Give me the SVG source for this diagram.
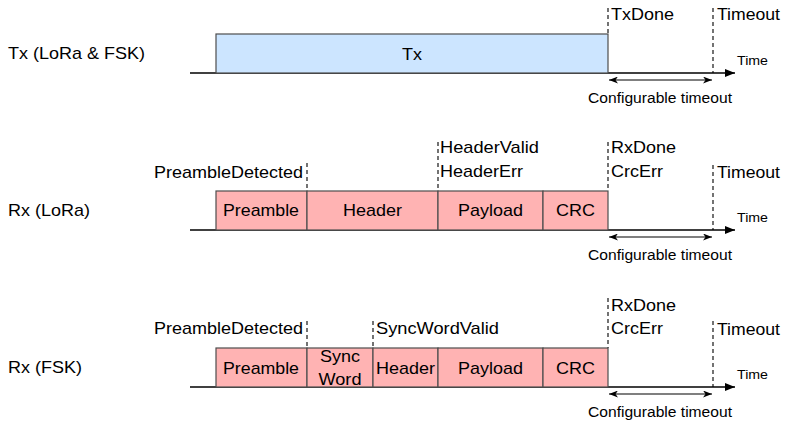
<svg xmlns="http://www.w3.org/2000/svg" width="786" height="424" viewBox="0 0 786 424">
<style>
text{font-family:"Liberation Sans",Arial,Helvetica,sans-serif;font-size:17px;fill:#000}
.m{text-anchor:middle}
.e{text-anchor:end}
.sm{font-size:15.5px}
.tm{font-size:13.5px}
.tx{fill:#cce5ff;stroke:#4d4d4d;stroke-width:1.2}
.rx{fill:#ffb3b3;stroke:#4d4d4d;stroke-width:1.2}
.dash{stroke:#000;stroke-width:1.1;stroke-dasharray:4 3;fill:none}
.axis{stroke:#000;stroke-width:1.4;fill:none}
.dbl{stroke:#000;stroke-width:1.1;fill:none}
</style>
<defs>
<marker id="ah" viewBox="0 0 10 8" refX="10" refY="4" markerWidth="10" markerHeight="8" markerUnits="userSpaceOnUse" orient="auto"><path d="M0,0 L10,4 L0,8 z" fill="#000"/></marker>
<marker id="ca" viewBox="0 0 9 7" refX="9" refY="3.5" markerWidth="9" markerHeight="7" markerUnits="userSpaceOnUse" orient="auto-start-reverse"><path d="M0,0 L9,3.5 L0,7 L2.5,3.5 z" fill="#000"/></marker>
</defs>

<g id="connectors">
<line class="axis" x1="190" y1="73" x2="735" y2="73" marker-end="url(#ah)"/>
<line class="axis" x1="190" y1="230" x2="735" y2="230" marker-end="url(#ah)"/>
<line class="axis" x1="190" y1="387" x2="735" y2="387" marker-end="url(#ah)"/>
<line class="dbl" x1="609" y1="80" x2="712" y2="80" marker-start="url(#ca)" marker-end="url(#ca)"/>
<line class="dbl" x1="609" y1="237" x2="712" y2="237" marker-start="url(#ca)" marker-end="url(#ca)"/>
<line class="dbl" x1="609" y1="394" x2="712" y2="394" marker-start="url(#ca)" marker-end="url(#ca)"/>
<line class="dash" x1="608" y1="8" x2="608" y2="34"/>
<line class="dash" x1="713" y1="8" x2="713" y2="73"/>
<line class="dash" x1="307" y1="163" x2="307" y2="191"/>
<line class="dash" x1="438" y1="142" x2="438" y2="191"/>
<line class="dash" x1="608" y1="142" x2="608" y2="191"/>
<line class="dash" x1="713" y1="165" x2="713" y2="230"/>
<line class="dash" x1="307" y1="321" x2="307" y2="348"/>
<line class="dash" x1="373" y1="321" x2="373" y2="348"/>
<line class="dash" x1="608" y1="298" x2="608" y2="348"/>
<line class="dash" x1="713" y1="321" x2="713" y2="387"/>
</g>

<g id="row-tx">
<text x="8" y="59" textLength="137" lengthAdjust="spacingAndGlyphs">Tx (LoRa &amp; FSK)</text>
<g id="tx-box"><rect class="tx" x="216" y="34" width="392" height="39"/><text class="m" x="412" y="60" textLength="20" lengthAdjust="spacingAndGlyphs">Tx</text></g>
<text x="611" y="20" textLength="63" lengthAdjust="spacingAndGlyphs">TxDone</text>
<text x="717" y="20" textLength="63" lengthAdjust="spacingAndGlyphs">Timeout</text>
<text class="tm" x="737" y="65" textLength="31" lengthAdjust="spacingAndGlyphs">Time</text>
<text class="sm m" x="660" y="103" textLength="144" lengthAdjust="spacingAndGlyphs">Configurable timeout</text>
</g>

<g id="row-rx-lora">
<text x="8" y="216" textLength="82" lengthAdjust="spacingAndGlyphs">Rx (LoRa)</text>
<g id="lora-preamble"><rect class="rx" x="216" y="191" width="91" height="39"/><text class="m" x="261" y="216" textLength="76" lengthAdjust="spacingAndGlyphs">Preamble</text></g>
<g id="lora-header"><rect class="rx" x="307" y="191" width="131" height="39"/><text class="m" x="372.5" y="216" textLength="59" lengthAdjust="spacingAndGlyphs">Header</text></g>
<g id="lora-payload"><rect class="rx" x="438" y="191" width="105" height="39"/><text class="m" x="490.5" y="216" textLength="65" lengthAdjust="spacingAndGlyphs">Payload</text></g>
<g id="lora-crc"><rect class="rx" x="543" y="191" width="65" height="39"/><text class="m" x="575.5" y="216" textLength="39" lengthAdjust="spacingAndGlyphs">CRC</text></g>
<text class="e" x="303" y="178" textLength="149" lengthAdjust="spacingAndGlyphs">PreambleDetected</text>
<text x="440" y="153" textLength="99" lengthAdjust="spacingAndGlyphs">HeaderValid</text>
<text x="440" y="177" textLength="83" lengthAdjust="spacingAndGlyphs">HeaderErr</text>
<text x="611" y="153" textLength="65" lengthAdjust="spacingAndGlyphs">RxDone</text>
<text x="611" y="177" textLength="52" lengthAdjust="spacingAndGlyphs">CrcErr</text>
<text x="717" y="178" textLength="63" lengthAdjust="spacingAndGlyphs">Timeout</text>
<text class="tm" x="737" y="222" textLength="31" lengthAdjust="spacingAndGlyphs">Time</text>
<text class="sm m" x="660" y="260" textLength="144" lengthAdjust="spacingAndGlyphs">Configurable timeout</text>
</g>

<g id="row-rx-fsk">
<text x="8" y="373" textLength="74" lengthAdjust="spacingAndGlyphs">Rx (FSK)</text>
<g id="fsk-preamble"><rect class="rx" x="216" y="348" width="91" height="39"/><text class="m" x="261" y="373.5" textLength="76" lengthAdjust="spacingAndGlyphs">Preamble</text></g>
<g id="fsk-syncword"><rect class="rx" x="307" y="348" width="66" height="39"/><text class="m" x="340" y="362" textLength="40" lengthAdjust="spacingAndGlyphs">Sync</text><text class="m" x="340" y="385" textLength="43" lengthAdjust="spacingAndGlyphs">Word</text></g>
<g id="fsk-header"><rect class="rx" x="373" y="348" width="65" height="39"/><text class="m" x="405.5" y="373.5" textLength="59" lengthAdjust="spacingAndGlyphs">Header</text></g>
<g id="fsk-payload"><rect class="rx" x="438" y="348" width="105" height="39"/><text class="m" x="490.5" y="373.5" textLength="65" lengthAdjust="spacingAndGlyphs">Payload</text></g>
<g id="fsk-crc"><rect class="rx" x="543" y="348" width="65" height="39"/><text class="m" x="575.5" y="373.5" textLength="39" lengthAdjust="spacingAndGlyphs">CRC</text></g>
<text class="e" x="303" y="334" textLength="149" lengthAdjust="spacingAndGlyphs">PreambleDetected</text>
<text x="376" y="334" textLength="123" lengthAdjust="spacingAndGlyphs">SyncWordValid</text>
<text x="611" y="311" textLength="65" lengthAdjust="spacingAndGlyphs">RxDone</text>
<text x="611" y="334" textLength="52" lengthAdjust="spacingAndGlyphs">CrcErr</text>
<text x="717" y="335" textLength="63" lengthAdjust="spacingAndGlyphs">Timeout</text>
<text class="tm" x="737" y="379" textLength="31" lengthAdjust="spacingAndGlyphs">Time</text>
<text class="sm m" x="660" y="417" textLength="144" lengthAdjust="spacingAndGlyphs">Configurable timeout</text>
</g>
</svg>
